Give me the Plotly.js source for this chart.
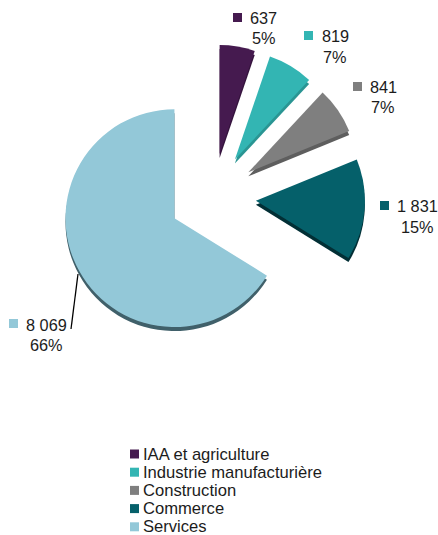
<!DOCTYPE html>
<html>
<head>
<meta charset="utf-8">
<script src="https://cdn.plot.ly/plotly-3.0.1.min.js"></script>
<style>html,body{margin:0;padding:0;background:#fff}#chart{width:438px;height:535px}</style>
</head>
<body>
<div id="chart"></div>
<script>
const categories = ["IAA et agriculture", "Industrie manufacturière", "Construction", "Commerce", "Services"];
const values = [637, 819, 841, 1831, 8069];
const valueLabels = ["637", "819", "841", "1 831", "8 069"];
const shareLabels = ["5%", "7%", "7%", "15%", "66%"];
const colors = ["#451a4f", "#33b5b3", "#7f7f7f", "#05606a", "#93c8d8"];
const rimColors = ["#35143d", "#2a9593", "#5e5e5e", "#022f35", "#40606a"];

const W = 438, H = 535;
const px = x => x / W;
const py = y => 1 - y / H;

// pie placement (pixels)
const cx = 212.5, cy = 197, size = 305, depth = 4;
const pull = 0.4;

function pieTrace(colorList, dy) {
  return {
    type: "pie",
    values: values,
    labels: categories,
    sort: false,
    direction: "clockwise",
    rotation: 0,
    pull: pull,
    textinfo: "none",
    hoverinfo: "label+value+percent",
    showlegend: false,
    marker: {colors: colorList, line: {width: 0}},
    domain: {
      x: [px(cx - size / 2), px(cx + size / 2)],
      y: [py(cy + dy + size / 2), py(cy + dy - size / 2)]
    }
  };
}

// data label placement: key square left/top, text centre x, first and second line y
const labelPlaces = [
  {kx: 233, ky: 13, tx: 263.5, y1: 18, y2: 38},
  {kx: 304, ky: 31, tx: 335, y1: 36, y2: 57},
  {kx: 353, ky: 82, tx: 383, y1: 87, y2: 107},
  {kx: 380, ky: 201, tx: 417.5, y1: 206, y2: 227},
  {kx: 9, ky: 319, tx: 46, y1: 325, y2: 345}
];

const labelFont = {family: "Liberation Sans, Arial, sans-serif", size: 16.3, color: "#1c1c1c"};
const legendFont = {family: "Liberation Sans, Arial, sans-serif", size: 16.6, color: "#1c1c1c"};
const annotations = [];
const shapes = [];

function square(x, y, s, color) {
  shapes.push({type: "rect", xref: "paper", yref: "paper",
    x0: px(x), x1: px(x + s), y0: py(y + s), y1: py(y),
    fillcolor: color, line: {width: 0}});
}
function text(str, x, y, anchor, font, boxHeight) {
  const a = {text: str, xref: "paper", yref: "paper", x: px(x), y: py(y),
    xanchor: anchor, yanchor: "middle", showarrow: false, font: font,
    borderpad: 0, borderwidth: 0};
  if (boxHeight) a.height = boxHeight;
  annotations.push(a);
}

categories.forEach((c, i) => {
  const p = labelPlaces[i];
  square(p.kx, p.ky, 9, colors[i]);
  text(valueLabels[i], p.tx, p.y1, "center", labelFont);
  text(shareLabels[i], p.tx, p.y2, "center", labelFont);
  // legend; the last row sits by the window's bottom edge, so its box is kept tight
  const ly = 454 + i * 18.2;
  square(130, ly - 4.5, 9, colors[i]);
  text(c, 143, ly, "left", legendFont, i === categories.length - 1 ? 15 : 0);
});

// leader line for Services
shapes.push({type: "line", xref: "paper", yref: "paper",
  x0: px(78), y0: py(274), x1: px(71), y1: py(329),
  line: {color: "#000000", width: 1.3}});

Plotly.newPlot("chart",
  [pieTrace(rimColors, depth), pieTrace(colors, 0)],
  {
    width: W, height: H,
    margin: {l: 0, r: 0, t: 0, b: 0},
    paper_bgcolor: "#ffffff",
    showlegend: false,
    annotations: annotations,
    shapes: shapes
  },
  {displayModeBar: false, staticPlot: true}
);
</script>
</body>
</html>
